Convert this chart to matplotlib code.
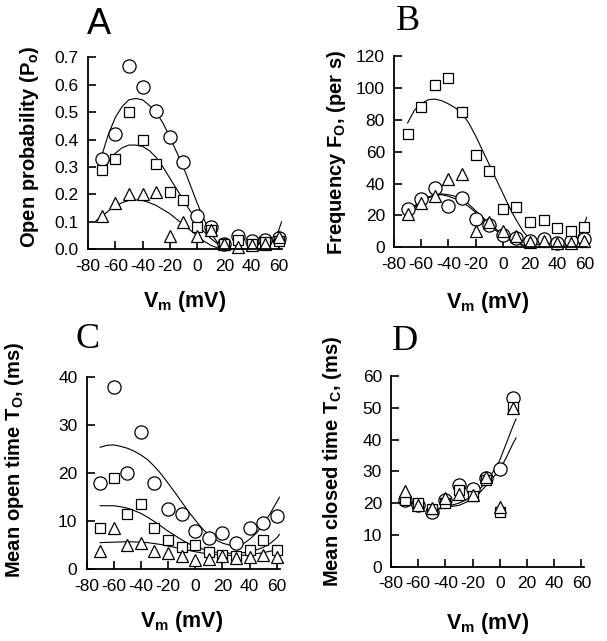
import matplotlib
matplotlib.use("Agg")
import matplotlib.pyplot as plt

plt.rcParams['font.family'] = ['Liberation Sans', 'DejaVu Sans']
plt.rcParams['mathtext.fontset'] = 'custom'
plt.rcParams['mathtext.rm'] = 'Liberation Sans:bold'
plt.rcParams['mathtext.bf'] = 'Liberation Sans:bold'
plt.rcParams['mathtext.it'] = 'Liberation Sans:bold'

# ---------------- data ----------------
vm = [-70, -60, -50, -40, -30, -20, -10, 0, 10, 20, 30, 40, 50, 60]

# Panel A: open probability
A_circ = [0.33, 0.42, 0.67, 0.59, 0.505, 0.41, 0.32, 0.12, 0.08, 0.02, 0.05, 0.03, 0.035, 0.04]
A_sq = [0.29, 0.33, 0.50, 0.40, 0.31, 0.21, 0.18, 0.08, 0.07, 0.02, 0.034, 0.02, 0.025, 0.03]
A_tri = [0.12, 0.17, 0.20, 0.20, 0.21, 0.05, 0.10, 0.05, 0.07, 0.02, 0.01, 0.015, 0.02, 0.045]

A_fit_x = [-70, -65, -60, -55, -50, -45, -40, -35, -30, -25, -20, -15, -10, -5, 0, 5, 10, 15, 20, 25, 30, 40, 50, 55, 60, 62]
A_fit_circ = [0.34, 0.42, 0.48, 0.52, 0.545, 0.55, 0.545, 0.525, 0.50, 0.46, 0.41, 0.355, 0.30, 0.235, 0.17, 0.11, 0.06, 0.025, 0.008, 0.002, 0.0, 0.0, 0.0, 0.025, 0.07, 0.10]
A_fit_x2 = [-70, -65, -60, -55, -50, -45, -40, -35, -30, -25, -20, -15, -10, -5, 0, 5, 10, 15, 20, 25]
A_fit_sq = [0.27, 0.32, 0.35, 0.37, 0.38, 0.38, 0.375, 0.36, 0.335, 0.30, 0.26, 0.22, 0.18, 0.14, 0.10, 0.065, 0.04, 0.02, 0.005, 0.0]
A_fit_x3 = [-74, -70, -65, -60, -55, -50, -45, -40, -35, -30, -25, -20, -15, -10, -5, 0, 5, 10, 15, 20]
A_fit_tri = [0.105, 0.12, 0.14, 0.158, 0.17, 0.178, 0.18, 0.178, 0.17, 0.16, 0.145, 0.13, 0.11, 0.09, 0.07, 0.05, 0.03, 0.015, 0.005, 0.0]

# Panel B: frequency
B_sq = [71, 88, 102, 106, 85, 58, 48, 24, 25, 16, 17, 12, 10, 13]
B_tri = [21, 28, 32, 43, 46, 10, 16, 10, 7, 3.5, 4, 3, 2.5, 4]
B_circ = [24, 30, 37, 26, 31, 18, 14, 8, 6, 4, 5, 2.5, 4, 5]

B_fit_x = [-70, -65, -60, -55, -50, -45, -40, -35, -30, -25, -20, -15, -10, -5, 0, 5, 10, 15, 20, 25, 30, 35, 40, 45, 50, 55, 60, 63]
B_fit_sq = [78, 86, 90, 92.5, 93, 92, 90, 87.5, 84, 78, 70, 61, 52, 43, 34, 25, 17, 10, 5, 2, 0.5, 0, 0, 0.5, 2, 6, 15, 21]
B_fit_x2 = [-72, -65, -60, -55, -50, -45, -40, -35, -30, -25, -20, -15, -10, -5, 0, 5, 10, 15, 20, 25]
B_fit_circ = [20, 26, 29, 31.5, 33, 33.5, 33, 32, 30.5, 27, 23, 19, 15, 11.5, 8, 5, 3, 1.5, 0.5, 0]
B_fit_tri = [19, 25, 28.5, 31, 32.5, 33, 32, 30.5, 28.5, 25.5, 22, 18, 14, 10.5, 7.5, 4.5, 2.5, 1, 0.3, 0]

# Panel C: mean open time
C_circ = [18, 38, 20, 28.5, 18, 12.5, 11.5, 8, 6.5, 7.5, 5.5, 8.5, 9.5, 11]
C_sq = [8.5, 19, 11.5, 13.5, 8.5, 6, 4.5, 5, 3.5, 3, 2.7, 4, 6, 4]
C_tri = [3.8, 8.5, 5, 5.5, 3.8, 3.3, 2.8, 1.8, 2, 2.7, 2.2, 2.5, 3, 2.4]

C_fit_x = [-70, -65, -60, -55, -50, -45, -40, -35, -30, -25, -20, -15, -10, -5, 0, 5, 10, 15, 20, 25, 30, 35, 40, 45, 50, 55, 60, 62]
C_fit_circ = [25.4, 25.8, 25.9, 25.6, 25.2, 24.6, 23.8, 22.8, 21.4, 19.8, 17.9, 16, 14, 12, 10.2, 8.5, 7.1, 6.1, 5.4, 5, 4.8, 5.2, 6.2, 7.5, 9.3, 11.5, 14, 15]
C_fit_sq = [13.2, 13.2, 13.2, 13, 12.7, 12.2, 11.6, 10.8, 9.9, 8.9, 7.9, 7, 6.1, 5.3, 4.7, 4.2, 3.8, 3.5, 3.4, 3.3, 3.3, 3.4, 3.6, 4, 4.5, 5.3, 6.5, 7.2]
C_fit_tri = [5.5, 5.55, 5.6, 5.65, 5.7, 5.65, 5.6, 5.5, 5.3, 5.1, 4.8, 4.5, 4.2, 3.9, 3.6, 3.35, 3.1, 3, 2.9, 2.85, 2.8, 2.85, 3, 3.2, 3.4, 3.7, 4, 4.1]

# Panel D: mean closed time
vm_D = [-70, -60, -50, -40, -30, -20, -10, 0, 10]
D_circ = [21, 19.5, 17.3, 21, 25.8, 24.6, 27.8, 30.6, 53]
D_sq = [21, 20, 18, 20, 24, 22.2, 27.3, 17.3, 50.3]
D_tri = [23.8, 19.4, 18.4, 21.5, 23, 22.5, 28.3, 18.9, 50]

D_fit_x = [-50, -45, -40, -35, -30, -25, -20, -15, -10, -5, 0, 5, 10, 12]
D_fit_up = [18, 18.3, 18.9, 19.4, 20, 21, 22.5, 24.3, 26.7, 29.8, 33.5, 39, 44.5, 46.5]
D_fit_lo = [17.8, 18.1, 18.6, 19, 19.3, 20.2, 21.3, 23.2, 25.5, 28, 30.4, 34.5, 39, 40.5]

xticks = [-80, -60, -40, -20, 0, 20, 40, 60]
xticklabels = ['-80', '-60', '-40', '-20', '0', '20', '40', '60']

# ---------------- figure ----------------
W, H = 607, 641
fig = plt.figure(figsize=(W / 100, H / 100), dpi=100)


def px_axes(left, right, top, bottom):
    return fig.add_axes([left / W, 1 - bottom / H, (right - left) / W, (bottom - top) / H])


mk = dict(mfc='white', mec='black', mew=0.9, ls='none', clip_on=False)
ln = dict(color='black', lw=0.8)


def style(ax, ylim, yticks, yfmt):
    ax.set_xlim(-80, 62)
    ax.set_ylim(*ylim)
    ax.set_xticks(xticks)
    ax.set_xticklabels(xticklabels)
    ax.set_yticks(yticks)
    ax.set_yticklabels([yfmt(v) for v in yticks])
    for s in ['top', 'right']:
        ax.spines[s].set_visible(False)
    for s in ['left', 'bottom']:
        ax.spines[s].set_linewidth(1.3)
    ax.tick_params(direction='in', length=5.5, width=1.2, labelsize=12.5)
    ax.tick_params(axis='x', pad=7)
    ax.tick_params(axis='y', pad=6.5)
    ax.patch.set_alpha(0)


def draw(ax, x, series, fits):
    for fx, fy in fits:
        ax.plot(fx, fy, **ln)
    c, s, t = series
    ax.plot(x, c, marker='o', ms=9.5, **mk)
    ax.plot(x, s, marker='s', ms=7.5, **mk)
    ax.plot(x, t, marker='^', ms=8.5, **mk)


# A
axA = px_axes(88, 281.5, 57.3, 249.3)
style(axA, (0, 0.7), [0.0, 0.1, 0.2, 0.3, 0.4, 0.5, 0.6, 0.7], lambda v: f'{v:.1f}')
draw(axA, vm, (A_circ, A_sq, A_tri),
     [(A_fit_x, A_fit_circ), (A_fit_x2, A_fit_sq), (A_fit_x3, A_fit_tri)])

# B
axB = px_axes(394, 587, 56, 247.3)
style(axB, (0, 120), [0, 20, 40, 60, 80, 100, 120], lambda v: f'{v:d}')
draw(axB, vm, (B_circ, B_sq, B_tri),
     [(B_fit_x, B_fit_sq), (B_fit_x2, B_fit_circ), (B_fit_x2, B_fit_tri)])

# C
axC = px_axes(86.5, 279.5, 377.3, 569)
style(axC, (0, 40), [0, 10, 20, 30, 40], lambda v: f'{v:d}')
draw(axC, vm, (C_circ, C_sq, C_tri),
     [(C_fit_x, C_fit_circ), (C_fit_x, C_fit_sq), (C_fit_x, C_fit_tri)])

# D
axD = px_axes(391, 584, 376, 566.7)
style(axD, (0, 60), [0, 10, 20, 30, 40, 50, 60], lambda v: f'{v:d}')
draw(axD, vm_D, (D_circ, D_sq, D_tri),
     [(D_fit_x, D_fit_up), (D_fit_x, D_fit_lo)])

# ---------------- labels ----------------
def ftext(x, y, s, **kw):
    fig.text(x / W, 1 - y / H, s, **kw)


ylab = dict(rotation=90, ha='center', va='center', fontsize=14.5, fontweight='bold')
ftext(30, 147, r'Open probability (P$_{\mathbf{o}}$)', **ylab)
ftext(336, 152, r'Frequency F$_{\mathbf{O}}$, (per s)', **ylab)
ftext(15, 460, r'Mean open time T$_{\mathbf{O}}$, (ms)', **ylab)
ftext(332, 461, r'Mean closed time T$_{\mathbf{C}}$, (ms)', **ylab)

xlab = dict(ha='center', va='center', fontsize=15.5, fontweight='bold')
ftext(185, 301, r'V$_{\mathbf{m}}$ (mV)', **xlab)
ftext(488, 303, r'V$_{\mathbf{m}}$ (mV)', **xlab)
ftext(182, 621, r'V$_{\mathbf{m}}$ (mV)', **xlab)
ftext(488, 623, r'V$_{\mathbf{m}}$ (mV)', **xlab)

ftext(99, 25, 'A', ha='center', va='center', fontsize=26, family=['Liberation Sans'])
ftext(408, 22, 'B', ha='center', va='center', fontsize=26, family=['Liberation Serif'])
ftext(88, 340, 'C', ha='center', va='center', fontsize=26, family=['Liberation Serif'])
ftext(405, 342, 'D', ha='center', va='center', fontsize=26, family=['Liberation Serif'])

fig.savefig('out.png', dpi=100)
